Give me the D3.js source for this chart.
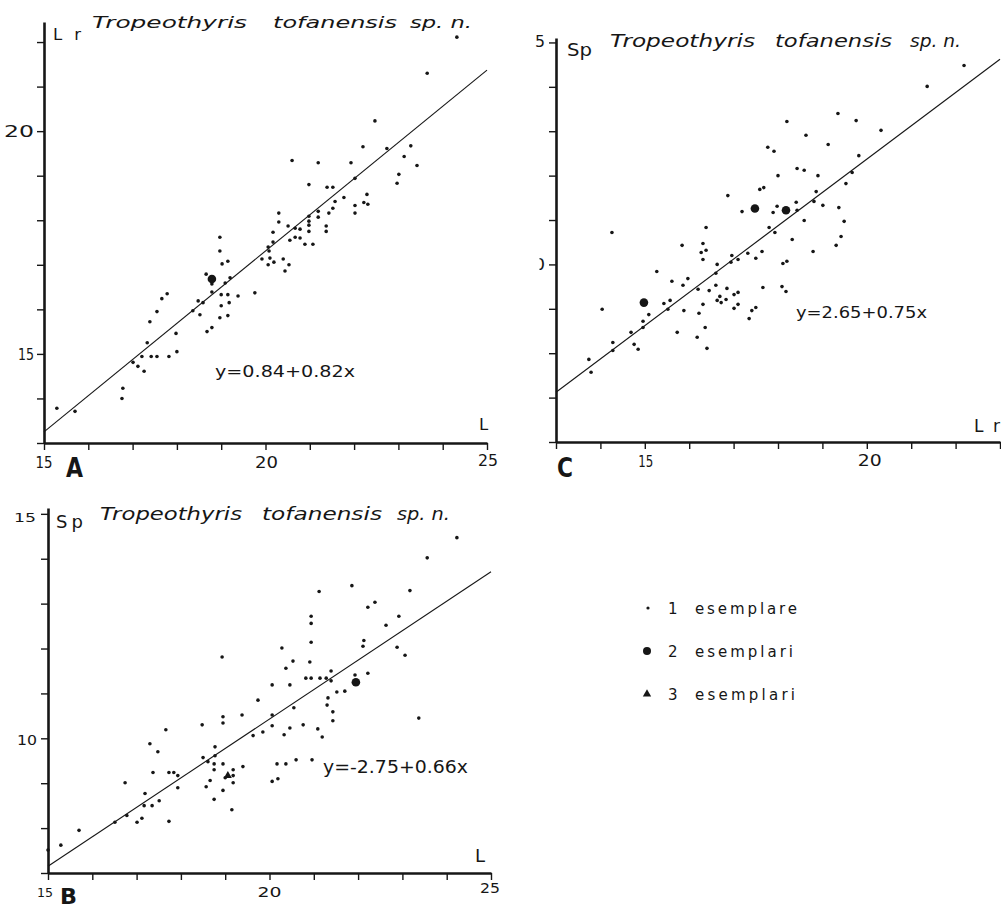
<!DOCTYPE html>
<html><head><meta charset="utf-8">
<script src="https://cdn.jsdelivr.net/npm/d3@7/dist/d3.min.js"></script>
<style>body{margin:0;background:#fff}svg{display:block}</style>
</head><body>
<svg id="c" width="1001" height="910"></svg>
<script>
// ================= DATA =================
const speciesWords = ["Tropeothyris", "tofanensis", "sp. n."];

// Panel A : Lr against L
const aL  = [24.32,23.65,22.47,22.20,22.74,23.28,23.13,23.42,20.60,21.19,21.93,23.01,22.97,20.98,21.39,21.52,22.02,22.29,21.77,21.57,22.22,22.31,22.02,22.02,21.52,21.43,21.19,21.19,20.30,20.30,20.51,20.98,20.98,20.98,20.98,21.37,21.37,20.67,20.78,20.17,20.55,20.67,20.78,20.89,21.07,20.17,20.06,20.08,19.92,20.10,20.06,20.19,20.40,20.53,20.44,19.76,18.97,18.97,19.02,19.15,18.66,18.79,18.79,19.00,19.09,19.20,19.15,19.38,19.18,19.00,19.15,18.97,18.59,18.48,18.36,18.52,18.79,18.68,17.78,17.66,17.55,17.39,17.98,17.33,17.21,17.42,17.55,17.82,18.00,17.01,17.12,17.26,16.78,16.76,15.29,15.70];
const aLr = [22.11,21.30,20.23,19.65,19.61,19.67,19.43,19.23,19.34,19.29,19.29,19.03,18.83,18.80,18.74,18.74,18.94,18.58,18.51,18.42,18.40,18.36,18.33,18.16,18.27,18.16,18.20,18.07,18.16,17.96,17.87,18.09,17.98,17.89,17.75,17.87,17.75,17.82,17.80,17.73,17.55,17.62,17.60,17.46,17.46,17.51,17.40,17.31,17.13,17.15,17.00,17.06,17.13,17.00,16.86,16.37,17.62,17.31,17.02,17.08,16.79,16.57,16.39,16.33,16.59,16.71,16.33,16.30,16.15,16.08,15.86,15.81,16.15,16.19,15.97,15.88,15.59,15.50,16.35,16.24,15.95,15.72,15.46,15.25,14.94,14.94,14.94,14.94,15.05,14.81,14.72,14.61,14.23,14.00,13.78,13.71];
const aBigL = [18.79];
const aBigLr = [16.68];
const aTriL = [];
const aTriLr = [];
const aLineL = [15, 25];
const aLineLr = [13.25, 21.37];
const aEquation = "y=0.84+0.82x";
const aXTicks = [15,16,17,18,19,20,21,22,23,24,25];
const aYTicks = [13,14,15,16,17,18,19,20,21,22];
const aXLabels = ["15","20","25"];
const aYLabels = ["15","20"];

// Panel C : Sp against Lr
const cLr = [22.19,21.36,19.35,19.76,18.20,20.32,18.63,19.13,17.77,17.91,19.82,18.43,18.59,19.67,18.90,18.00,19.53,17.59,17.68,16.87,18.86,18.41,17.98,17.89,18.43,18.81,19.01,19.37,17.19,16.38,17.80,17.93,18.59,19.49,19.42,18.32,19.31,18.79,17.64,17.50,18.11,18.20,15.84,16.31,16.27,16.38,16.31,16.63,16.96,16.94,17.10,17.32,15.27,16.60,15.61,15.97,15.86,16.20,16.45,16.60,16.85,17.66,18.09,18.18,16.69,16.72,16.63,16.83,17.01,17.10,17.01,17.10,17.41,17.50,17.35,16.31,16.22,16.36,16.18,16.40,15.73,15.88,15.52,15.43,15.57,15.09,14.96,14.96,14.69,14.04,14.28,14.28,14.76,14.85,13.74,13.79,14.26];
const cSp = [14.48,14.01,13.40,13.24,13.22,13.02,12.91,12.70,12.64,12.55,12.45,12.16,12.12,12.07,12.00,12.00,11.82,11.69,11.73,11.55,11.64,11.40,11.31,11.17,11.22,11.42,11.33,11.28,11.19,10.83,10.83,10.72,10.99,10.97,10.63,10.56,10.43,10.29,10.29,10.14,10.02,10.07,10.43,10.47,10.27,10.32,10.11,10.00,10.20,10.05,10.11,10.25,9.84,9.80,9.62,9.68,9.53,9.44,9.41,9.53,9.46,9.48,9.50,9.39,9.28,9.14,9.19,9.21,9.32,9.37,9.01,9.10,8.96,9.03,8.78,9.10,8.90,8.58,8.36,8.11,8.47,8.96,8.99,9.12,9.19,8.87,8.72,8.58,8.47,8.99,8.24,8.06,8.20,8.09,7.86,7.57,10.72];
const cBigLr = [17.48, 18.18, 14.98];
const cBigSp = [11.26, 11.22, 9.14];
const cTriLr = [];
const cTriSp = [];
const cLineLr = [13, 23];
const cLineSp = [7.12, 14.62];
const cEquation = "y=2.65+0.75x";
const cXTicks = [13,14,15,16,17,18,19,20,21,22,23];
const cYTicks = [6,7,8,9,10,11,12,13,14,15];
const cXLabels = ["15","20"];
const cYLabels = ["15","10"];

// Panel B : Sp against L
const bL  = [24.23,23.56,21.86,21.12,23.17,22.38,22.22,20.94,20.94,22.92,22.63,20.94,22.13,22.11,22.88,23.06,20.28,20.53,20.91,20.37,21.39,20.06,20.46,20.82,20.94,21.14,21.28,21.39,21.93,22.22,21.52,21.70,21.32,20.55,21.30,19.74,20.06,21.43,21.43,23.37,20.06,20.46,20.76,21.09,19.85,19.63,20.33,21.19,19.38,20.17,20.37,20.60,20.96,20.06,20.19,18.93,18.95,18.95,18.48,17.66,17.30,17.48,18.77,18.50,18.77,18.61,18.75,18.95,18.75,19.18,19.40,19.00,19.18,19.18,17.37,17.73,17.84,17.93,16.74,18.66,18.57,17.93,18.95,17.19,18.75,17.51,17.17,17.35,19.15,16.78,16.51,17.01,17.12,17.73,15.70,15.29,15.00];
const bSp = [14.47,14.02,13.40,13.27,13.29,13.03,12.92,12.72,12.56,12.72,12.52,12.14,12.18,12.05,12.03,11.85,12.01,11.72,11.70,11.56,11.50,11.19,11.19,11.34,11.34,11.34,11.34,11.28,11.41,11.45,11.03,11.05,10.90,10.68,10.74,10.85,10.52,10.59,10.39,10.45,10.28,10.23,10.30,10.21,10.14,10.06,10.08,10.03,10.52,9.43,9.43,9.52,9.52,9.04,9.10,11.81,10.48,10.34,10.30,10.19,9.88,9.70,9.81,9.57,9.61,9.48,9.43,9.43,9.30,9.30,9.37,9.12,9.17,9.01,9.24,9.24,9.24,9.17,9.01,9.06,8.92,8.90,8.84,8.77,8.64,8.61,8.50,8.50,8.41,8.28,8.13,8.13,8.22,8.15,7.95,7.62,7.51];
const bBigL = [21.95];
const bBigSp = [11.25];
const bTriL = [19.06];
const bTriSp = [9.17];
const bLineL = [15, 25];
const bLineSp = [7.15, 13.71];
const bEquation = "y=-2.75+0.66x";
const bXTicks = [15,16,17,18,19,20,21,22,23,24,25];
const bYTicks = [7,8,9,10,11,12,13,14,15];
const bXLabels = ["15","20","25"];
const bYLabels = ["15","10"];

// Legend
const legendNumbers = ["1","2","3"];
const legendWords = ["esemplare","esemplari","esemplari"];

// ================= DRAWING =================
const INK = "#161616";
const FONT = "'DejaVu Sans', 'Liberation Sans', sans-serif";
const svg = d3.select("#c");
const defs = svg.append("defs");

function txt(g, s, x, y, o = {}) {
  const t = g.append("text").attr("x", x).attr("y", y).text(s)
    .attr("font-family", FONT).attr("font-size", o.size || 16).attr("fill", INK);
  if (o.italic) t.attr("font-style", "italic");
  if (o.bold) t.attr("font-weight", "bold");
  if (o.anchor) t.attr("text-anchor", o.anchor);
  if (o.w) t.attr("textLength", o.w).attr("lengthAdjust", o.adj || "spacingAndGlyphs");
  if (o.clip) t.attr("clip-path", o.clip);
  return t;
}

function panel(cfg) {
  const x = d3.scaleLinear().domain(cfg.xDomain).range(cfg.xRange);
  const y = d3.scaleLinear().domain(cfg.yDomain).range(cfg.yRange);
  const g = svg.append("g");
  const x0 = cfg.xRange[0], y0 = cfg.yRange[0];

  const ya = g.append("g").attr("transform", `translate(${x0},0)`)
    .call(d3.axisLeft(y).tickValues(cfg.yTicks).tickSize(7).tickSizeOuter(0).tickFormat(""));
  const xa = g.append("g").attr("transform", `translate(0,${y0})`)
    .call(d3.axisBottom(x).tickValues(cfg.xTicks).tickSize(7).tickSizeOuter(0).tickFormat(""));
  [ya, xa].forEach(a => {
    a.select(".domain").attr("stroke", INK).attr("stroke-width", 2.6);
    a.selectAll(".tick line").attr("stroke", INK).attr("stroke-width", 1.4);
  });

  // tick labels
  cfg.xLabels.forEach((s, i) => {
    const L = cfg.xLabelLayout[i];
    txt(g, s, x(+s) + L.dx, y0 + L.dy, {size: L.size, w: L.w, anchor: "middle"});
  });
  cfg.yLabels.forEach((s, i) => {
    const L = cfg.yLabelLayout[i];
    txt(g, s, x0 + L.dx, y(+s) + L.dy, {size: L.size, w: L.w, anchor: "end", clip: L.clip});
  });

  // regression line
  g.append("line")
    .attr("x1", x(cfg.lineX[0])).attr("y1", y(cfg.lineY[0]))
    .attr("x2", x(cfg.lineX[1])).attr("y2", y(cfg.lineY[1]))
    .attr("stroke", INK).attr("stroke-width", 1.1);

  // single specimens
  g.selectAll("circle.s").data(d3.range(cfg.px.length)).join("circle").attr("class", "s")
    .attr("cx", i => x(cfg.px[i])).attr("cy", i => y(cfg.py[i])).attr("r", 1.8).attr("fill", INK);
  // two specimens
  g.selectAll("circle.b").data(d3.range(cfg.bx.length)).join("circle").attr("class", "b")
    .attr("cx", i => x(cfg.bx[i])).attr("cy", i => y(cfg.by[i])).attr("r", 4.3).attr("fill", INK);
  // three specimens
  g.selectAll("path.t").data(d3.range(cfg.tx.length)).join("path").attr("class", "t")
    .attr("d", d3.symbol(d3.symbolTriangle, 28))
    .attr("transform", i => `translate(${x(cfg.tx[i])},${y(cfg.ty[i])})`).attr("fill", INK);

  // title (species name)
  speciesWords.forEach((w, i) => {
    const L = cfg.title[i];
    txt(g, w, L.x, cfg.titleY, {size: cfg.titleSize, italic: true, w: L.w});
  });
  // axis names, panel letter, equation
  cfg.texts.forEach(t => txt(g, t.s, t.x, t.y, t));
}

// clip paths for the cut-off labels of panel C
defs.append("clipPath").attr("id", "clipC15").append("rect").attr("x", 535).attr("y", 0).attr("width", 60).attr("height", 910);
defs.append("clipPath").attr("id", "clipC10").append("rect").attr("x", 539.5).attr("y", 0).attr("width", 60).attr("height", 910);

// ---------- Panel A ----------
panel({
  xDomain: [15, 25], xRange: [44, 487],
  yDomain: [13, 22.45], yRange: [443, 22],
  xTicks: aXTicks, yTicks: aYTicks,
  xLabels: aXLabels, yLabels: aYLabels,
  xLabelLayout: [{dx: 0, dy: 25, size: 15, w: 17}, {dx: 1, dy: 25, size: 15, w: 23}, {dx: 1, dy: 23, size: 15, w: 20}],
  yLabelLayout: [{dx: -10, dy: 6, size: 15, w: 16}, {dx: -10, dy: 6, size: 15, w: 30}],
  lineX: aLineL, lineY: aLineLr,
  px: aL, py: aLr, bx: aBigL, by: aBigLr, tx: aTriL, ty: aTriLr,
  titleY: 28, titleSize: 16.5,
  title: [{x: 92, w: 155}, {x: 273, w: 124}, {x: 410, w: 62}],
  texts: [
    {s: "Lr", x: 53, y: 40, size: 16.5, w: 28, adj: "spacing"},
    {s: "L", x: 479, y: 430, size: 16.5},
    {s: "A", x: 66, y: 477, size: 26, bold: true, w: 17},
    {s: aEquation, x: 215, y: 377, size: 16, w: 140}
  ]
});

// ---------- Panel C ----------
panel({
  xDomain: [13, 23], xRange: [556, 1000],
  yDomain: [6, 15.1], yRange: [442, 38],
  xTicks: cXTicks, yTicks: cYTicks,
  xLabels: cXLabels, yLabels: cYLabels,
  xLabelLayout: [{dx: 1, dy: 25, size: 15, w: 15}, {dx: 3, dy: 24, size: 15, w: 24}],
  yLabelLayout: [{dx: -11, dy: 5, size: 15, w: 20, clip: "url(#clipC15)"}, {dx: -11, dy: 6, size: 15, w: 22, clip: "url(#clipC10)"}],
  lineX: cLineLr, lineY: cLineSp,
  px: cLr, py: cSp, bx: cBigLr, by: cBigSp, tx: cTriLr, ty: cTriSp,
  titleY: 47, titleSize: 17.5,
  title: [{x: 610, w: 145}, {x: 775, w: 117}, {x: 910, w: 51}],
  texts: [
    {s: "Sp", x: 567, y: 56, size: 17, w: 25},
    {s: "Lr", x: 974, y: 432, size: 17, w: 26, adj: "spacing"},
    {s: "C", x: 557, y: 477, size: 26, bold: true, w: 16},
    {s: cEquation, x: 796, y: 318, size: 16.5, w: 131}
  ]
});

// ---------- Panel B ----------
panel({
  xDomain: [15, 25], xRange: [48, 491],
  yDomain: [7, 15.13], yRange: [873, 508],
  xTicks: bXTicks, yTicks: bYTicks,
  xLabels: bXLabels, yLabels: bYLabels,
  xLabelLayout: [{dx: -3, dy: 24, size: 13, w: 16}, {dx: 0, dy: 24, size: 14, w: 24}, {dx: -1, dy: 20, size: 14, w: 20}],
  yLabelLayout: [{dx: -12, dy: 8, size: 13, w: 22}, {dx: -11, dy: 7, size: 14, w: 20}],
  lineX: bLineL, lineY: bLineSp,
  px: bL, py: bSp, bx: bBigL, by: bBigSp, tx: bTriL, ty: bTriSp,
  titleY: 520, titleSize: 17.5,
  title: [{x: 100, w: 142}, {x: 262, w: 120}, {x: 397, w: 53}],
  texts: [
    {s: "Sp", x: 56, y: 528, size: 18, w: 27, adj: "spacing"},
    {s: "L", x: 475, y: 862, size: 18},
    {s: "B", x: 60, y: 904, size: 22, bold: true, w: 17},
    {s: bEquation, x: 323, y: 773, size: 17, w: 145}
  ]
});

// ---------- Legend ----------
const lg = svg.append("g");
const legendY = [608, 651, 694];
lg.append("circle").attr("cx", 648).attr("cy", legendY[0]).attr("r", 1.6).attr("fill", INK);
lg.append("circle").attr("cx", 647).attr("cy", legendY[1]).attr("r", 4).attr("fill", INK);
lg.append("path").attr("d", d3.symbol(d3.symbolTriangle, 30))
  .attr("transform", `translate(647,${legendY[2]})`).attr("fill", INK);
legendNumbers.forEach((n, i) => {
  txt(lg, n, 668, legendY[i] + 6, {size: 15});
  txt(lg, legendWords[i], 695, legendY[i] + 6, {size: 15, w: [102, 98, 100][i], adj: "spacing"});
});
</script>
</body></html>
